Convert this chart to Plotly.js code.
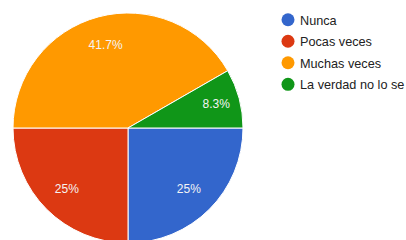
<!DOCTYPE html>
<html><head><meta charset="utf-8">
<script src="https://cdn.plot.ly/plotly-3.0.1.min.js"></script>
<style>html,body{margin:0;padding:0;overflow:hidden;background:#fff;width:406px;height:240px}#chart{width:406px;height:256px}</style>
</head><body><div id="chart"></div>
<script>
var categories = ["Nunca", "Pocas veces", "Muchas veces", "La verdad no lo se"];
var percentages = [25, 25, 41.7, 8.3];
var colors = ["#3366cc", "#dc3912", "#ff9900", "#109618"];
var FONT = "Liberation Sans, Arial, sans-serif";

var traces = [{
  type: "pie",
  labels: categories,
  values: percentages,
  sort: false,
  direction: "clockwise",
  rotation: 90,
  marker: {colors: colors, line: {color: "#ffffff", width: 1}},
  textinfo: "none",
  showlegend: false,
  domain: {x: [0, 1], y: [0, 1]},
  hoverinfo: "label+percent"
}, {
  type: "pie",
  labels: categories,
  values: percentages,
  sort: false,
  direction: "clockwise",
  rotation: 90,
  hole: 0.5,
  marker: {colors: categories.map(function(){return "rgba(0,0,0,0)";}), line: {width: 0}},
  textinfo: "percent",
  textposition: "inside",
  insidetextorientation: "horizontal",
  insidetextfont: {color: "#f4f4f4", size: 12, family: FONT},
  showlegend: false,
  domain: {x: [0, 1], y: [0, 1]},
  hoverinfo: "skip"
}];
categories.forEach(function(c, i){
  traces.push({type: "scatter", mode: "markers", x: [null], y: [null], name: c, legendgroup: "g" + i,
    marker: {symbol: "circle", size: 13, color: colors[i]}, showlegend: true, hoverinfo: "skip"});
});

var layout = {
  width: 406, height: 256,
  margin: {l: 13, r: 163, t: 13, b: 13},
  paper_bgcolor: "#ffffff", plot_bgcolor: "#ffffff",
  xaxis: {visible: false}, yaxis: {visible: false},
  font: {family: FONT, size: 12.7, color: "#222222"},
  legend: {xref: "container", yref: "container", x: 268 / 406, y: 1 - 5 / 256, xanchor: "left", yanchor: "top",
    font: {size: 12.7, color: "#222222", family: FONT},
    itemclick: false, tracegroupgap: 2, bgcolor: "rgba(0,0,0,0)"},
  showlegend: true
};
Plotly.newPlot("chart", traces, layout, {displayModeBar: false, staticPlot: true}).then(function(){
  document.querySelectorAll(".legendtext").forEach(function(t){ t.setAttribute("x", 32); });
});
</script></body></html>
